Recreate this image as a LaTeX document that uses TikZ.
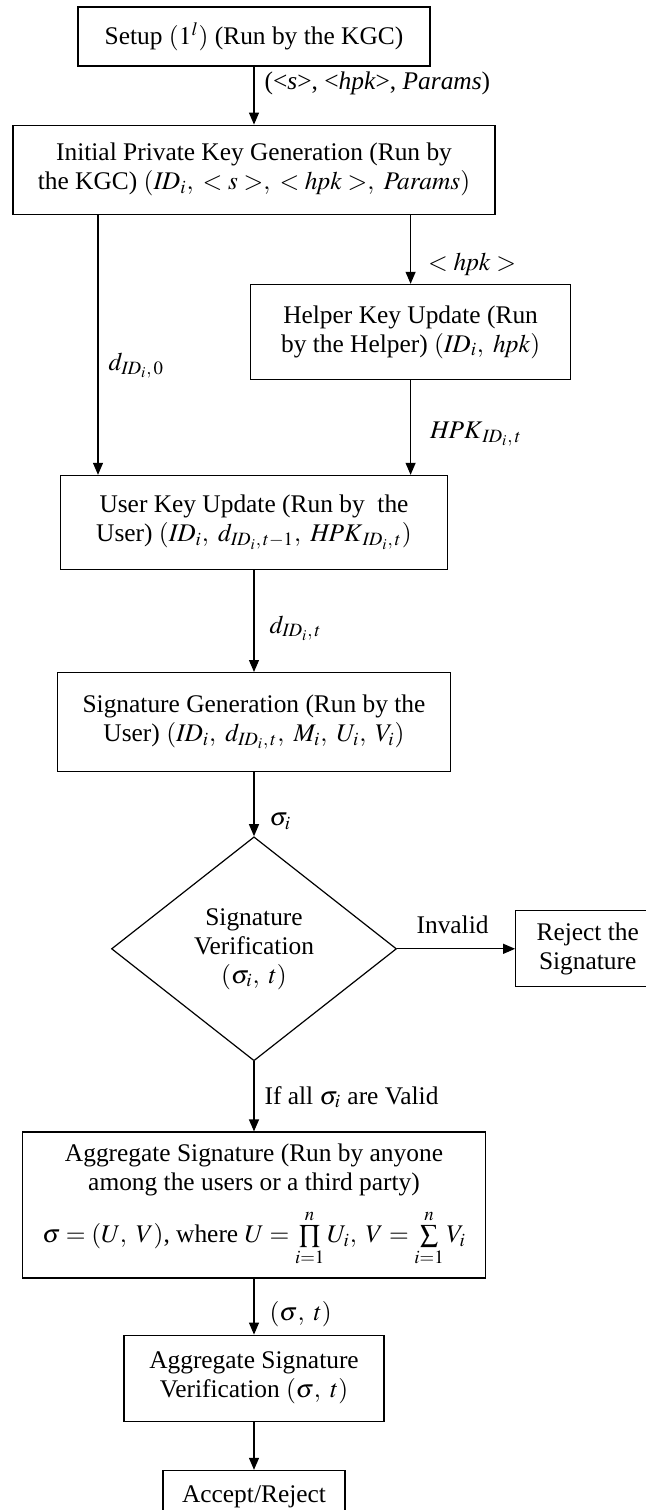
\documentclass[tikz,border=0pt]{standalone}
\usepackage{mathptmx}
\usepackage[no-math]{fontspec}
\setmainfont{Liberation Serif}
\usetikzlibrary{arrows.meta,positioning,shapes.geometric}

\begin{document}
\begin{tikzpicture}[
  font=\fontsize{12.7pt}{14.5pt}\selectfont,
  box/.style={rectangle, draw, line width=0.6pt, align=center, inner sep=0pt},
  decision/.style={diamond, draw, line width=0.6pt, align=center, inner sep=0pt, aspect=1.27},
  lbl/.style={inner sep=0pt, align=left},
  arrow/.style={-{Triangle[length=6pt,width=5pt]}, line width=0.6pt}
]

\useasboundingbox (0,0) rectangle (323pt,-755pt);

% Key generation
\node[box, minimum width=176pt, minimum height=29.5pt] (setup) at (127pt,-18.25pt) {Setup $(1^{l})$ (Run by the KGC)};
\node[box, below=29pt of setup, minimum width=241pt, minimum height=44.5pt] (init) {Initial Private Key Generation (Run by\\ the KGC) $(\mathit{ID}_i,\ <s>,\ <\mathit{hpk}>,\ \mathit{Params})$};
\coordinate (hk) at ([xshift=-42.5pt]init.south east);
\coordinate (lft) at ([xshift=42.8pt]init.south west);
\node[box, below=34.5pt of hk, minimum width=160pt, minimum height=47.5pt] (helper) {Helper Key Update (Run\\ by the Helper) $(\mathit{ID}_i,\ \mathit{hpk})$};

% Key update and signing
\node[box, below=130pt of init, minimum width=193.5pt, minimum height=47pt] (user) {User Key Update (Run by\ \ the\\ User) $(\mathit{ID}_i,\ d_{\mathit{ID}_i,\,t-1},\ \mathit{HPK}_{\mathit{ID}_i,\,t})$};
\node[box, below=51pt of user, minimum width=196.5pt, minimum height=49.5pt] (sign) {Signature Generation (Run by the\\ User) $(\mathit{ID}_i,\ d_{\mathit{ID}_i,\,t},\ M_i,\ U_i,\ V_i)$};

% Verification
\node[decision, below=32pt of sign, minimum width=142.5pt, minimum height=112pt] (verify) {Signature\\ Verification\\ $(\sigma_i,\ t)$};
\node[box, right=59pt of verify, minimum width=72pt, minimum height=38pt] (reject) {Reject the\\ Signature};

% Aggregation
\node[box, below=35pt of verify, minimum width=231.5pt, minimum height=73pt] (aggr) {Aggregate Signature (Run by anyone\\ among the users or a third party)\\[6pt] $\sigma=(U,\ V)$, where $U=\prod\limits_{i=1}^{n}U_i,\ V=\sum\limits_{i=1}^{n}V_i$};
\node[box, below=28pt of aggr, minimum width=130pt, minimum height=43pt] (aggver) {Aggregate Signature\\ Verification $(\sigma,\ t)$};
\node[box, below=24pt of aggver, minimum width=91pt, minimum height=26pt] (accept) {Accept/Reject};

% Arrows
\draw[arrow] (setup) -- node[lbl, right=5pt, pos=0.29] (setout) {(<\textit{s}>, <\textit{hpk}>, \textit{Params})} (init);
\draw[arrow] (hk) -- node[lbl, right=8.5pt, pos=0.72] (hpkout) {$<\mathit{hpk}>$} (helper);
\draw[arrow] (lft) -- node[lbl, right=5pt, pos=0.58] (dzero) {$d_{\mathit{ID}_i,\,0}$} (lft |- user.north);
\draw[arrow] (helper) -- node[lbl, right=9.5pt, pos=0.57] (hpkt) {$\mathit{HPK}_{\mathit{ID}_i,\,t}$} (helper |- user.north);
\draw[arrow] (user) -- node[lbl, right=7.5pt, pos=0.57] (dt) {$d_{\mathit{ID}_i,\,t}$} (sign);
\draw[arrow] (sign) -- node[lbl, right=7.5pt, pos=0.77] (sig) {$\sigma_i$} (verify);
\draw[arrow] (verify) -- node[lbl, above=7pt, pos=0.47] (inval) {Invalid} (reject);
\draw[arrow] (verify) -- node[lbl, right=5pt, pos=0.51] (valid) {If all $\sigma_i$ are Valid} (aggr);
\draw[arrow] (aggr) -- node[lbl, right=7.5pt, pos=0.64] (sigt) {$(\sigma,\ t)$} (aggver);
\draw[arrow] (aggver) -- (accept);

\end{tikzpicture}
\end{document}
